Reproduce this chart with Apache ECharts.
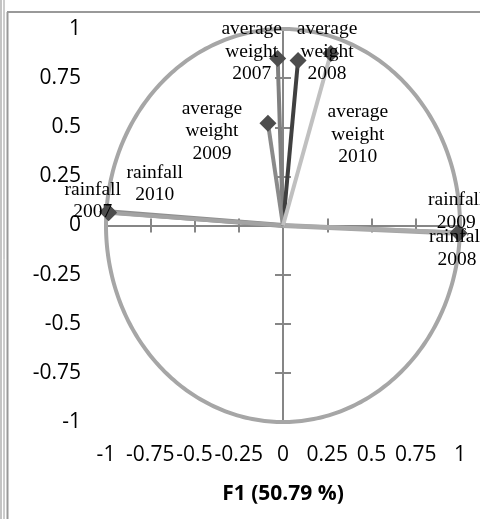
<!DOCTYPE html>
<html><head><meta charset="utf-8">
<script src="https://cdn.jsdelivr.net/npm/echarts@6/dist/echarts.min.js"></script>
<style>html,body{margin:0;padding:0;background:#fff}#c{width:480px;height:519px}</style>
</head><body><div id="c"></div>
<script>
// ---- data ----
const varNames = ['rainfall 2007','rainfall 2010','rainfall 2008','rainfall 2009',
  'average weight 2007','average weight 2008','average weight 2009','average weight 2010'];
const f1 = [-0.99, -0.985, 0.995, 0.99, -0.03, 0.085, -0.085, 0.27];
const f2 = [0.07, 0.065, -0.04, -0.035, 0.85, 0.84, 0.52, 0.875];
const tickValues = [-1,-0.75,-0.5,-0.25,0,0.25,0.5,0.75,1];
const xTitle = 'F1 (50.79 %)';
const circleRadius = [1];

// ---- styles ----
const lineColors = ['#8f8f8f','#a3a3a3','#a6a6a6','#ababab','#808080','#404040','#8a8a8a','#c0c0c0'];
const lineWidths = [5,4,5,4,4,4,4,4];
const labelOffsets = [[-15,-11],[46,-29],[-2,15],[-2,-21],[-26,-7],[29,-9],[-56,8],[27,81]];

const axisColor = '#868686';
const sans = '"Open Sans", "Noto Sans", sans-serif';
const serif = '"Liberation Serif", "DejaVu Serif", serif';

function mkX(extra){return Object.assign({type:'value',min:tickValues[0],max:tickValues[tickValues.length-1],interval:0.25,
  splitLine:{show:false},axisLabel:{show:false},axisTick:{show:false},axisLine:{show:false}},extra);}
function mkY(extra){return Object.assign({type:'value',min:tickValues[0],max:tickValues[tickValues.length-1],interval:0.25,
  splitLine:{show:false},axisLabel:{show:false},axisTick:{show:false},axisLine:{show:false}},extra);}

const series = [{
  type:'custom', silent:true, z:1, data:circleRadius.map(r=>[r]),
  encode:{x:0,y:0},
  renderItem:function(params, api){
    const r = api.value(0); const pts=[];
    for(let i=0;i<=360;i++){const t=i*Math.PI/180; pts.push(api.coord([r*Math.cos(t), r*Math.sin(t)]));}
    return {type:'polyline', shape:{points:pts}, style:{stroke:'#a6a6a6', lineWidth:4, fill:null}};
  }
}];
varNames.forEach((n,i)=>{
  series.push({
    type:'line', name:n, z:3+ (i<4?0:1), silent:true, animation:false,
    lineStyle:{color:lineColors[i], width:lineWidths[i]},
    itemStyle:{color:'#4d4d4d'},
    data:[
      {value:[0,0], symbol:'none', label:{show:false}},
      {value:[f1[i], f2[i]], symbol:'diamond', symbolSize:17,
       label:{show:true, position:'inside', offset:labelOffsets[i], formatter:n.replace(/ /g,'\n'),
         fontFamily:serif, fontSize:19.5, lineHeight:22.5, color:'#000', align:'center'}}
    ]
  });
});

const chart = echarts.init(document.getElementById('c'), null, {renderer:'canvas'});
chart.setOption({
  animation:false,
  backgroundColor:'#fff',
  grid:{left:106,right:20,top:29,bottom:97,containLabel:false},
  xAxis:[
    mkX({position:'bottom', axisLabel:{show:true, margin:23, fontFamily:sans, fontSize:21, color:'#000', hideOverlap:false},
      name:xTitle, nameLocation:'middle', nameGap:62,
      nameTextStyle:{fontFamily:sans, fontSize:21, fontWeight:'bold', color:'#000'}}),
    mkX({position:'bottom', axisLine:{show:true, onZero:true, onZeroAxisIndex:0, lineStyle:{color:axisColor,width:2}},
      axisTick:{show:true, length:7, lineStyle:{color:axisColor,width:2}}}),
    mkX({position:'bottom', axisLine:{show:false, onZero:true, onZeroAxisIndex:0},
      axisTick:{show:true, inside:true, length:7, lineStyle:{color:axisColor,width:2}}})
  ],
  yAxis:[
    mkY({position:'left', axisLabel:{show:true, margin:25, fontFamily:sans, fontSize:21, color:'#000'}}),
    mkY({position:'left', axisLine:{show:true, onZero:true, onZeroAxisIndex:0, lineStyle:{color:axisColor,width:2}},
      axisTick:{show:true, length:8, lineStyle:{color:axisColor,width:2}}}),
    mkY({position:'left', axisLine:{show:false, onZero:true, onZeroAxisIndex:0},
      axisTick:{show:true, inside:true, length:8, lineStyle:{color:axisColor,width:2}}})
  ],
  graphic:[
    {type:'line', shape:{x1:1,y1:0,x2:1,y2:519}, style:{stroke:'#b0b0b0', lineWidth:1.5}, silent:true},
    {type:'line', shape:{x1:4,y1:0,x2:4,y2:519}, style:{stroke:'#9a9a9a', lineWidth:1}, silent:true},
    {type:'line', shape:{x1:7.5,y1:12,x2:7.5,y2:519}, style:{stroke:'#999', lineWidth:2}, silent:true},
    {type:'line', shape:{x1:7,y1:12,x2:480,y2:12}, style:{stroke:'#999', lineWidth:2}, silent:true}
  ],
  series:series
});
</script>
</body></html>
